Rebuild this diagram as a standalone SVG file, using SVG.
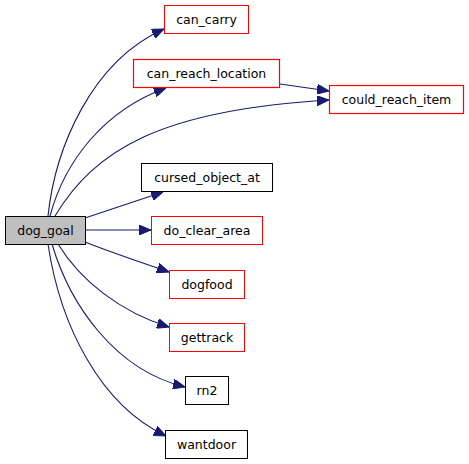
<svg xmlns="http://www.w3.org/2000/svg" width="469" height="464" viewBox="0 0 469 464">
<defs>
<style>
.n text{font-family:"DejaVu Sans","Liberation Sans",sans-serif;font-size:12.5px;fill:#000;text-anchor:middle}
.e path{fill:none;stroke:#191970;stroke-width:1.1}
</style>
<marker id="ah" viewBox="0 0 12 10" refX="12" refY="5" markerWidth="12" markerHeight="10" markerUnits="userSpaceOnUse" orient="auto">
<path d="M0,0 L12,5 L0,10 Z" fill="#191970" stroke="#191970"/>
</marker>
</defs>
<rect width="469" height="464" fill="#ffffff"/>
<g id="edges" class="e">
<path d="M48,216 C55,150 90,62 164,29" marker-end="url(#ah)"/>
<path d="M50,216 C65,160 105,110 166,88" marker-end="url(#ah)"/>
<path d="M55,216 C95,150 160,110 329,100" marker-end="url(#ah)"/>
<path d="M280,84 L329,91" marker-end="url(#ah)"/>
<path d="M85,218 L163,192" marker-end="url(#ah)"/>
<path d="M85,230 L151,230" marker-end="url(#ah)"/>
<path d="M85,242 C110,252 140,262 169,272" marker-end="url(#ah)"/>
<path d="M58,244 C80,280 120,312 169,327" marker-end="url(#ah)"/>
<path d="M52,244 C70,305 115,370 185,387" marker-end="url(#ah)"/>
<path d="M48,244 C60,325 100,405 166,436" marker-end="url(#ah)"/>
</g>
<g id="dog_goal" class="n"><rect x="5.5" y="216.5" width="80" height="28" fill="#bfbfbf" stroke="#000000"/><text x="45.5" y="234.5">dog_goal</text></g>
<g id="can_carry" class="n"><rect x="164.5" y="5.5" width="84" height="28" fill="#ffffff" stroke="#ff0000"/><text x="206.5" y="23.5">can_carry</text></g>
<g id="can_reach_location" class="n"><rect x="133.5" y="59.5" width="146" height="28" fill="#ffffff" stroke="#ff0000" stroke-width="1.2"/><text x="206.5" y="77.5">can_reach_location</text></g>
<g id="could_reach_item" class="n"><rect x="329.5" y="85.5" width="134" height="28" fill="#ffffff" stroke="#ff0000" stroke-width="1.2"/><text x="396.5" y="103.5">could_reach_item</text></g>
<g id="cursed_object_at" class="n"><rect x="141.5" y="163.5" width="131" height="28" fill="#ffffff" stroke="#000000"/><text x="207" y="181.5">cursed_object_at</text></g>
<g id="do_clear_area" class="n"><rect x="151.5" y="216.5" width="111" height="28" fill="#ffffff" stroke="#ff0000"/><text x="207" y="234.5">do_clear_area</text></g>
<g id="dogfood" class="n"><rect x="169.5" y="270.5" width="75" height="28" fill="#ffffff" stroke="#ff0000"/><text x="207" y="288.5">dogfood</text></g>
<g id="gettrack" class="n"><rect x="169.5" y="323.5" width="75" height="28" fill="#ffffff" stroke="#ff0000"/><text x="207" y="341.5">gettrack</text></g>
<g id="rn2" class="n"><rect x="185.5" y="376.5" width="43" height="28" fill="#ffffff" stroke="#000000"/><text x="207" y="394.5">rn2</text></g>
<g id="wantdoor" class="n"><rect x="165.5" y="430.5" width="82" height="28" fill="#ffffff" stroke="#000000"/><text x="206.5" y="448.5">wantdoor</text></g>
</svg>
